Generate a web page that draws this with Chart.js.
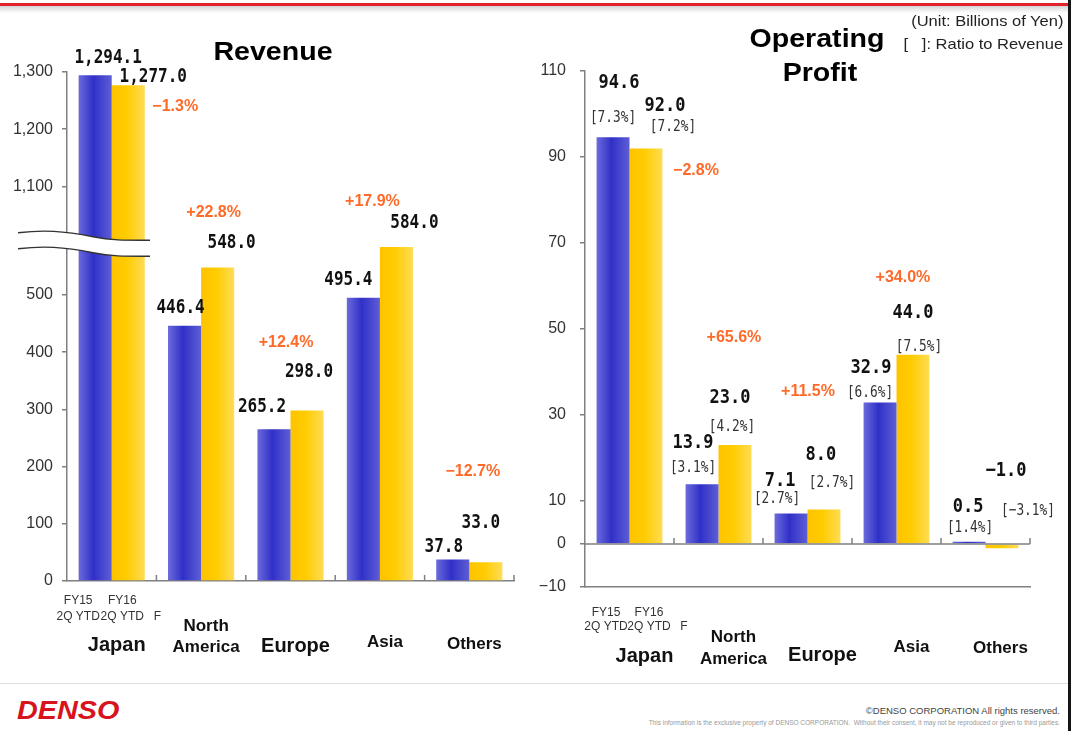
<!DOCTYPE html>
<html>
<head>
<meta charset="utf-8">
<title>Revenue and Operating Profit by Region</title>
<script src="https://cdn.jsdelivr.net/npm/chart.js@4/dist/chart.umd.min.js"></script>
<style>
  body { margin: 0; width: 1071px; height: 731px; background: #fff; position: relative; overflow: hidden;
         font-family: "Liberation Sans", Arial, sans-serif; color: #111; }
  .topbar { position: absolute; left: 0; top: 3px; width: 1068px; height: 3px; background: #e3212b; }
  .shadow { position: absolute; left: 0; top: 6px; width: 1068px; height: 7px; background: linear-gradient(#d4d4d4, #fff); }
  .edge { position: absolute; left: 1068px; top: 0; width: 3px; height: 731px; background: #151515; }
  canvas { position: absolute; top: 0; }
  #revChart { left: 0; }
  #opChart { left: 530px; }
  .t { position: absolute; white-space: nowrap; line-height: 1; }
  .title { font-weight: bold; font-size: 26px; color: #000; transform: translate(-50%, -50%) scaleX(1.1); }
  .note { font-size: 15px; color: #222; transform-origin: right center; transform: translateY(-50%) scaleX(1.1); }
  .footline { position: absolute; left: 0; top: 683px; width: 1068px; height: 1px; background: #dedede; }
  .logo { left: 17px; top: 710px; font-size: 25px; font-weight: bold; font-style: italic; color: #d7141e;
          transform-origin: left center; transform: translateY(-50%) scaleX(1.15); }
  .copy { right: 11px; top: 711px; font-size: 9.5px; color: #444; transform: translateY(-50%); }
  .info { right: 11px; top: 723px; font-size: 6.5px; color: #999; transform: translateY(-50%); }
</style>
</head>
<body>
<div class="topbar"></div>
<div class="shadow"></div>
<canvas id="revChart" width="540" height="690"></canvas>
<canvas id="opChart" width="541" height="690"></canvas>
<div class="t title" style="left:273px; top:51px;">Revenue</div>
<div class="t title" style="left:817px; top:38px;">Operating</div>
<div class="t title" style="left:820px; top:72px;">Profit</div>
<div class="t note" style="right:8px; top:20px;">(Unit: Billions of Yen)</div>
<div class="t note" style="right:8px; top:43px;">[&nbsp;&nbsp;&nbsp;]: Ratio to Revenue</div>
<div class="footline"></div>
<div class="t logo">DENSO</div>
<div class="t copy">&copy;DENSO CORPORATION All rights reserved.</div>
<div class="t info">This information is the exclusive property of DENSO CORPORATION.&nbsp; Without their consent, it may not be reproduced or given to third parties.</div>
<div class="edge"></div>
<script>
// data
var regions = ['Japan', 'North America', 'Europe', 'Asia', 'Others'];
var seriesNames = [['FY15', '2Q YTD'], ['FY16', '2Q YTD']];

var revFY15 = [1294.1, 446.4, 265.2, 495.4, 37.8];
var revFY16 = [1277.0, 548.0, 298.0, 584.0, 33.0];
var revChange = [-1.3, 22.8, 12.4, 17.9, -12.7];
var revTicks = [0, 100, 200, 300, 400, 500, 1100, 1200, 1300];

var opFY15 = [94.6, 13.9, 7.1, 32.9, 0.5];
var opFY16 = [92.0, 23.0, 8.0, 44.0, -1.0];
var opRatio15 = [7.3, 3.1, 2.7, 6.6, 1.4];
var opRatio16 = [7.2, 4.2, 2.7, 7.5, -3.1];
var opChange = [-2.8, 65.6, 11.5, 34.0, null];
var opTicks = [-10, 0, 10, 30, 50, 70, 90, 110];

// revenue axis is broken between 600 and 1000
var breakShift = 410;
function toAxis(v) { return v >= 1000 ? v - breakShift : v; }
function fromAxis(v) { return v > 600 ? v + breakShift : v; }

// label nudges [dx, dy] relative to the bar top centre
var revNudge15 = [[13, -18], [-4, -18], [-12, -23], [-15, -18], [-9, -13]];
var revNudge16 = [[25, -8], [14, -25], [2, -39], [18, -24], [-5, -39]];
var revChangeNudge = [[47, 21], [-4, -55], [-21, -68], [-24, -45], [-13, -91]];
var opNudge15 = [[6, -54], [-9, -41], [-11, -33], [-9, -35], [-1, -35]];
var opRatioNudge15 = [[0, -19], [-9, -16], [-14, -15], [-10, -10], [1, -14]];
var opNudge16 = [[19, -43], [-5, -47], [-3, -55], [0, -42], [4, -74]];
var opRatioNudge16 = [[27, -22], [-3, -18], [8, -27], [6, -8], [26, -34]];
var opChangeNudge = [[50, 22], [-1, -108], [-16, -118], [-10, -77], null];

var BLUE = [[0, '#6b6bdc'], [0.45, '#3030c8'], [1, '#5e5ed6']];
var YELLOW = [[0, '#ffc300'], [0.45, '#ffcc00'], [1, '#ffdc55']];
var GROUP = 0.74;
var AXIS = '#808080';

function minus(n) { return (n < 0 ? '\u2212' : '') }
function fmtNum(v) {
  return minus(v) + Math.abs(v).toLocaleString('en-US', { minimumFractionDigits: 1, maximumFractionDigits: 1 });
}
function fmtChange(c) { return (c > 0 ? '+' : '\u2212') + Math.abs(c).toFixed(1) + '%'; }
function fmtRatio(r) { return '[' + minus(r) + Math.abs(r).toFixed(1) + '%]'; }

function barFill(stops) {
  return function (c) {
    var xs = c.chart.scales.x;
    if (!xs || c.dataIndex === undefined || !xs.width) return stops[1][1];
    var w = xs.width / c.chart.data.labels.length * GROUP / 2;
    var center = xs.getPixelForValue(c.dataIndex);
    var x0 = c.datasetIndex === 0 ? center - w : center;
    var g = c.chart.ctx.createLinearGradient(x0, 0, x0 + w, 0);
    stops.forEach(function (s) { g.addColorStop(s[0], s[1]); });
    return g;
  };
}

function drawText(ctx, text, x, y, font, color, sx) {
  ctx.save();
  ctx.font = font;
  ctx.fillStyle = color;
  ctx.textAlign = 'center';
  ctx.textBaseline = 'middle';
  ctx.translate(x, y);
  ctx.scale(sx || 1, 1);
  ctx.fillText(text, 0, 0);
  ctx.restore();
}

// category boundary marks on the baseline (and the zero line for profit)
var axisMarks = {
  id: 'axisMarks',
  afterDatasetsDraw: function (chart, args, opts) {
    var ca = chart.chartArea, ctx = chart.ctx;
    var y0 = opts.atZero ? chart.scales.y.getPixelForValue(0) : ca.bottom;
    var n = chart.data.labels.length, step = (ca.right - ca.left) / n;
    ctx.save();
    ctx.strokeStyle = AXIS;
    ctx.lineWidth = 1.5;
    ctx.beginPath();
    if (opts.atZero) { ctx.moveTo(ca.left, y0); ctx.lineTo(ca.right, y0); }
    for (var i = 1; i <= n; i++) {
      var x = ca.left + step * i;
      ctx.moveTo(x, y0);
      ctx.lineTo(x, y0 - 6);
    }
    ctx.stroke();
    ctx.restore();
  }
};

// wavy break on the revenue axis
var axisBreak = {
  id: 'axisBreak',
  afterDatasetsDraw: function (chart) {
    var ctx = chart.ctx, ca = chart.chartArea;
    var yc = chart.scales.y.getPixelForValue(588);
    var L = ca.left - 49, R = ca.left + 83, gap = 16;
    function top(o) {
      ctx.moveTo(L, yc - 12 + o);
      ctx.bezierCurveTo(L + 25, yc - 15 + o, L + 45, yc - 14 + o, L + 75, yc - 8 + o);
      ctx.bezierCurveTo(L + 95, yc - 4 + o, L + 110, yc - 4.5 + o, R, yc - 4.5 + o);
    }
    ctx.save();
    ctx.beginPath();
    top(0);
    ctx.lineTo(R, yc - 4.5 + gap);
    ctx.bezierCurveTo(L + 110, yc - 4.5 + gap, L + 95, yc - 4 + gap, L + 75, yc - 8 + gap);
    ctx.bezierCurveTo(L + 45, yc - 14 + gap, L + 25, yc - 15 + gap, L, yc - 12 + gap);
    ctx.closePath();
    ctx.fillStyle = '#fff';
    ctx.fill();
    ctx.beginPath();
    top(0);
    top(gap);
    ctx.strokeStyle = '#333';
    ctx.lineWidth = 1.4;
    ctx.stroke();
    ctx.restore();
  }
};

// value, ratio and change labels plus series names under Japan
var valueLabels = {
  id: 'valueLabels',
  afterDatasetsDraw: function (chart, args, o) {
    var ctx = chart.ctx;
    var numFont = 'bold 20px "DejaVu Sans Mono", monospace';
    var ratioFont = '16px "DejaVu Sans Mono", monospace';
    var chgFont = 'bold 16px "Liberation Sans", Arial, sans-serif';
    var els = [chart.getDatasetMeta(0).data, chart.getDatasetMeta(1).data];
    regions.forEach(function (r, i) {
      for (var d = 0; d < 2; d++) {
        var el = els[d][i];
        var topY = Math.min(el.y, el.base);
        var v = o.values[d][i], nv = o.nudge[d][i];
        drawText(ctx, fmtNum(v), el.x + nv[0], topY + nv[1], numFont, '#111', o.sx);
        if (o.ratios) {
          var nr = o.ratioNudge[d][i];
          drawText(ctx, fmtRatio(o.ratios[d][i]), el.x + nr[0], topY + nr[1], ratioFont, '#333', 0.8);
        }
      }
      if (o.change[i] !== null) {
        var e1 = els[1][i], nc = o.changeNudge[i];
        drawText(ctx, fmtChange(o.change[i]), e1.x + nc[0], Math.min(e1.y, e1.base) + nc[1], chgFont, '#ff6a28', 1);
      }
    });
    // series names under the first category
    var base = chart.chartArea.bottom;
    var sFont = '12px "Liberation Sans", Arial, sans-serif';
    for (var d = 0; d < 2; d++) {
      var x = els[d][0].x + o.seriesDx[d];
      drawText(ctx, seriesNames[d][0], x, base + o.seriesDy[0], sFont, '#333', 1);
      drawText(ctx, seriesNames[d][1], x, base + o.seriesDy[1], sFont, '#333', 1);
    }
    var step = (chart.chartArea.right - chart.chartArea.left) / regions.length;
    drawText(ctx, 'F', chart.chartArea.left + step + o.fDx, base + o.seriesDy[1], sFont, '#333', 1);
  }
};

function regionLines(v, i) {
  var r = regions[i];
  return r.indexOf(' ') > 0 ? r.split(' ') : ['', r];
}

function makeChart(id, setup) {
  return new Chart(document.getElementById(id), {
    type: 'bar',
    data: {
      labels: regions,
      datasets: [
        { label: seriesNames[0].join(' '), data: setup.d15, backgroundColor: barFill(BLUE),
          barPercentage: 1, categoryPercentage: GROUP, borderWidth: 0 },
        { label: seriesNames[1].join(' '), data: setup.d16, backgroundColor: barFill(YELLOW),
          barPercentage: 1, categoryPercentage: GROUP, borderWidth: 0 }
      ]
    },
    options: {
      responsive: false,
      animation: false,
      events: [],
      layout: { padding: { top: setup.padTop, right: setup.padRight, left: 0, bottom: 0 } },
      plugins: {
        legend: { display: false },
        tooltip: { enabled: false },
        axisMarks: { atZero: setup.atZero },
        valueLabels: setup.labels
      },
      scales: {
        x: {
          grid: { display: false, drawTicks: false },
          border: { color: AXIS, width: 1.5 },
          ticks: {
            autoSkip: false, maxRotation: 0, padding: setup.xPad, labelOffset: setup.xShift,
            color: '#111',
            font: function (c) {
              return { family: '"Liberation Sans", Arial, sans-serif', weight: 'bold',
                       size: setup.xSize[c.index], lineHeight: setup.xLine[c.index] };
            },
            callback: regionLines
          },
          afterFit: function (s) { s.height = setup.xHeight; }
        },
        y: {
          min: setup.min, max: setup.max,
          afterBuildTicks: function (s) { s.ticks = setup.ticks.map(function (v) { return { value: setup.map(v) }; }); },
          grid: { drawOnChartArea: false, drawTicks: true, tickLength: 5, color: AXIS, lineWidth: 1.5 },
          border: { color: AXIS, width: 1.5 },
          ticks: {
            padding: setup.yPad, color: '#333',
            font: { family: '"Liberation Sans", Arial, sans-serif', size: 16 },
            callback: setup.yLabel
          },
          afterFit: function (s) { s.width = setup.yWidth; }
        }
      }
    },
    plugins: setup.extra
  });
}

makeChart('revChart', {
  d15: revFY15.map(toAxis), d16: revFY16.map(toAxis),
  min: 0, max: toAxis(1300), ticks: revTicks, map: toAxis,
  yLabel: function (v) { return fromAxis(v).toLocaleString('en-US'); },
  padTop: 72, padRight: 26, yWidth: 67, yPad: 9, xHeight: 109, xPad: 35, xShift: 5,
  xSize: [20, 17, 20, 17, 17], xLine: [0.97, 1.24, 1.0, 1.02, 1.1],
  atZero: false,
  labels: { values: [revFY15, revFY16], nudge: [revNudge15, revNudge16], sx: 0.8,
            change: revChange, changeNudge: revChangeNudge,
            seriesDx: [-17, -6], seriesDy: [20, 36], fDx: 1 },
  extra: [axisMarks, axisBreak, valueLabels]
});

makeChart('opChart', {
  d15: opFY15, d16: opFY16,
  min: -10, max: 110, ticks: opTicks, map: function (v) { return v; },
  yLabel: function (v) { return v < 0 ? '\u2212' + Math.abs(v) : v; },
  padTop: 71, padRight: 41, yWidth: 55, yPad: 14, xHeight: 103, xPad: 39, xShift: 15,
  xSize: [20, 17, 20, 17, 17], xLine: [1.03, 1.3, 0.97, 0.82, 0.86],
  atZero: true,
  labels: { values: [opFY15, opFY16], nudge: [opNudge15, opNudge16], sx: 0.85,
            ratios: [opRatio15, opRatio16], ratioNudge: [opRatioNudge15, opRatioNudge16],
            change: opChange, changeNudge: opChangeNudge,
            seriesDx: [-7, 3], seriesDy: [26, 40], fDx: 10 },
  extra: [axisMarks, valueLabels]
});
</script>
</body>
</html>
